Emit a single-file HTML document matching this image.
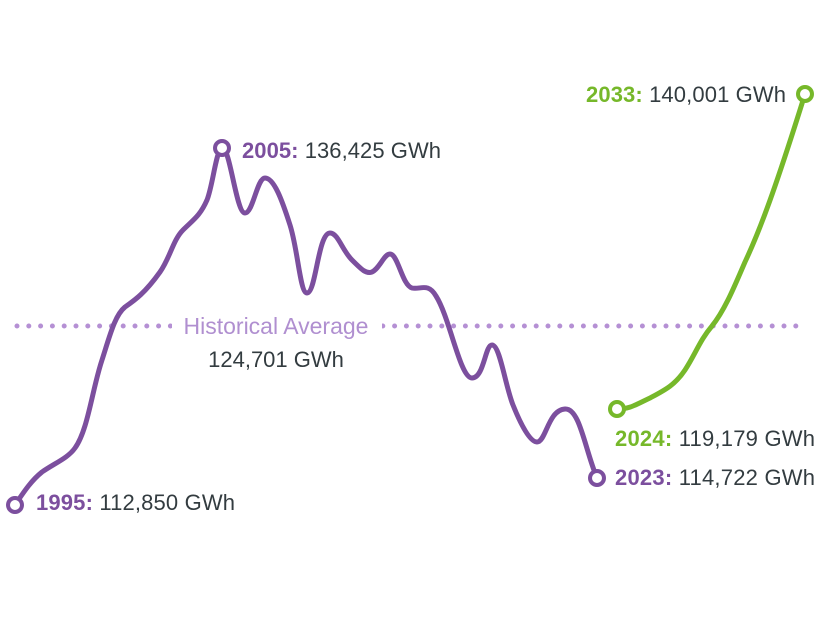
<!DOCTYPE html>
<html><head><style>
html,body{margin:0;padding:0;background:#fff;}
svg{display:block;font-family:"Liberation Sans",sans-serif;}
</style></head><body>
<svg width="826" height="620" viewBox="0 0 826 620">
<line x1="17" y1="326" x2="800" y2="326" stroke="#b590d4" stroke-width="5" stroke-linecap="round" stroke-dasharray="0 11.8"/>
<rect x="172" y="312" width="210" height="28" fill="#fff"/>
<text x="276" y="334" font-size="23" fill="#b08fd0" text-anchor="middle">Historical Average</text>
<text x="276" y="367" font-size="22" fill="#333c40" text-anchor="middle">124,701 GWh</text>
<path d="M15,505 C25,490 32,480 42,472 C55,463 68,458 75,448 C88,430 92,390 102,360 C110,335 115,315 125,307 C135,300 145,293 160,272 C170,258 173,240 183,230 C193,220 200,216 207,200 C213,185 216,150 222,148 C230,146 236,213 245,213 C253,213 257,178 265,178 C274,178 282,200 290,225 C298,250 300,293 307,293 C316,293 318,233 330,233 C338,233 342,250 352,260 C362,270 366,274 372,272 C380,268 384,254 390,254 C398,254 402,285 412,288 C420,290 428,282 436,296 C450,318 460,378 472,378 C484,378 485,345 492,345 C500,345 505,385 513,405 C521,425 530,442 537,442 C546,442 548,410 565,409 C580,408 585,450 597,478" fill="none" stroke="#7c4f9e" stroke-width="5" stroke-linecap="round" stroke-linejoin="round"/>
<path d="M617,409 C630,409 635,405 650,398 C665,390 675,385 685,370 C695,355 700,340 712,326 C725,310 735,285 745,262 C760,230 775,190 805,94" fill="none" stroke="#76b82a" stroke-width="5" stroke-linecap="round"/>
<circle cx="15" cy="505" r="7" fill="#fff" stroke="#7c4f9e" stroke-width="4"/>
<circle cx="222" cy="148" r="7" fill="#fff" stroke="#7c4f9e" stroke-width="4"/>
<circle cx="597" cy="478" r="7" fill="#fff" stroke="#7c4f9e" stroke-width="4"/>
<circle cx="617" cy="409" r="7" fill="#fff" stroke="#76b82a" stroke-width="4"/>
<circle cx="805" cy="94" r="7" fill="#fff" stroke="#76b82a" stroke-width="4"/>
<g font-size="22" fill="#333c40">
<text x="36" y="510" textLength="199"><tspan fill="#7c4f9e" font-weight="bold">1995:</tspan> 112,850 GWh</text>
<text x="242" y="158" textLength="199"><tspan fill="#7c4f9e" font-weight="bold">2005:</tspan> 136,425 GWh</text>
<text x="615" y="485" textLength="200"><tspan fill="#7c4f9e" font-weight="bold">2023:</tspan> 114,722 GWh</text>
<text x="615" y="446" textLength="200"><tspan fill="#76b82a" font-weight="bold">2024:</tspan> 119,179 GWh</text>
<text x="586" y="102" textLength="200"><tspan fill="#76b82a" font-weight="bold">2033:</tspan> 140,001 GWh</text>
</g>
</svg>
</body></html>
